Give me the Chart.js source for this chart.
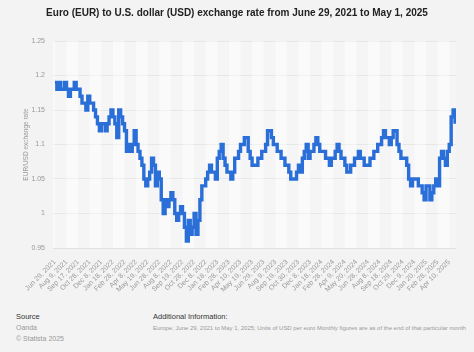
<!DOCTYPE html>
<html>
<head>
<meta charset="utf-8">
<script src="https://cdn.jsdelivr.net/npm/chart.js@4.4.1/dist/chart.umd.min.js"></script>
<style>
  html,body{margin:0;padding:0;background:#f3f3f3;font-family:"Liberation Sans",Arial,sans-serif;}
  #wrap{position:relative;width:474px;height:352px;overflow:hidden;}
  #title{position:absolute;left:0;top:7px;width:474px;text-align:center;font-size:10px;font-weight:bold;color:#222;}
  #box{position:absolute;left:0;top:0;width:474px;height:300px;}
  .ft{position:absolute;font-size:7px;line-height:11px;color:#999;}
  .ft b{font-weight:normal;color:#333;font-size:7.5px;}
</style>
</head>
<body>
<div id="wrap">
  <div id="box"><canvas id="chart" width="474" height="300"></canvas></div>
  <div id="title">Euro (EUR) to U.S. dollar (USD) exchange rate from June 29, 2021 to May 1, 2025</div>
  <div class="ft" style="left:16px;top:311px;"><b>Source</b><br>Oanda<br>© Statista 2025</div>
  <div class="ft" style="left:153px;top:311px;font-size:5.95px;"><b>Additional Information:</b><br>Europe; June 29, 2021 to May 1, 2025; Units of USD per euro Monthly figures are as of the end of that particular month</div>
</div>
<script>
// tick labels, one every 6 samples
const tickLabels = ['Jun 29, 2021','Aug 9, 2021','Sep 17, 2021','Oct 28, 2021','Dec 8, 2021','Jan 18, 2022','Feb 28, 2022','Apr 8, 2022','May 19, 2022','Jun 28, 2022','Aug 8, 2022','Sep 19, 2022','Oct 28, 2022','Dec 8, 2022','Jan 18, 2023','Feb 28, 2023','Apr 10, 2023','May 19, 2023','Jun 29, 2023','Aug 9, 2023','Sep 19, 2023','Oct 30, 2023','Dec 8, 2023','Jan 18, 2024','Feb 28, 2024','Apr 9, 2024','May 20, 2024','Jun 28, 2024','Aug 8, 2024','Sep 18, 2024','Oct 29, 2024','Dec 9, 2024','Jan 20, 2025','Feb 28, 2025','Apr 10, 2025'];
const perTick = 6;

// EUR/USD, roughly weekly samples
const rates = [
  1.19,1.18,1.19,1.18,1.18,1.19, 1.18,1.17,1.18,1.18,1.19,1.18,
  1.18,1.17,1.16,1.16,1.15,1.17, 1.16,1.16,1.15,1.14,1.13,1.12,
  1.13,1.13,1.12,1.13,1.14,1.15, 1.14,1.13,1.11,1.15,1.14,1.13,
  1.12,1.09,1.10,1.09,1.10,1.12, 1.10,1.09,1.08,1.07,1.05,1.04,
  1.05,1.06,1.08,1.07,1.04,1.06, 1.05,1.02,1.00,1.02,1.01,1.02,
  1.03,1.02,1.00,0.99,1.00,1.01, 1.00,0.98,0.96,0.99,0.97,0.98,
  1.00,0.97,0.99,1.02,1.04,1.04, 1.05,1.06,1.07,1.06,1.06,1.05,
  1.08,1.09,1.10,1.08,1.07,1.06, 1.06,1.05,1.06,1.08,1.08,1.09,
  1.10,1.10,1.11,1.11,1.09,1.08, 1.07,1.07,1.07,1.08,1.08,1.09,
  1.09,1.10,1.12,1.12,1.11,1.10, 1.10,1.09,1.09,1.08,1.08,1.07,
  1.07,1.06,1.05,1.05,1.05,1.06, 1.07,1.06,1.08,1.09,1.10,1.08,
  1.09,1.09,1.10,1.11,1.10,1.09, 1.09,1.09,1.08,1.08,1.07,1.08,
  1.08,1.09,1.10,1.09,1.08,1.08, 1.07,1.06,1.06,1.07,1.07,1.08,
  1.08,1.09,1.08,1.08,1.07,1.07, 1.07,1.08,1.08,1.09,1.09,1.10,
  1.10,1.11,1.12,1.11,1.11,1.10, 1.11,1.12,1.12,1.10,1.09,1.08,
  1.08,1.08,1.07,1.05,1.04,1.05, 1.05,1.05,1.04,1.04,1.03,1.02,
  1.04,1.04,1.02,1.03,1.04,1.05, 1.04,1.08,1.09,1.08,1.07,1.09,
  1.10,1.14,1.15,1.13
];

const yTicks = {min:0.95, max:1.25, step:0.05};
const gray = '#999';
const font = {family:'"Liberation Sans", Arial, sans-serif', size:7};

// alternating column bands behind the line
const bands = {
  id:'bands',
  beforeDatasetsDraw(c){
    const {ctx, chartArea:a, scales:{x}} = c;
    const edges = [a.left, ...tickLabels.map((_,i)=> x.getPixelForValue(i*perTick)), a.right];
    ctx.save();
    for (let i=0;i<edges.length-1;i++){
      ctx.fillStyle = i%2 ? 'rgba(255,255,255,0.2)' : 'rgba(255,255,255,0.55)';
      ctx.fillRect(edges[i], a.top, edges[i+1]-edges[i], a.bottom-a.top);
    }
    ctx.restore();
  }
};

new Chart(document.getElementById('chart'), {
  type:'line',
  data:{ datasets:[{
    data: rates.map((v,i)=>({x:i, y:v})),
    borderColor:'#2a6ed8', borderWidth:3.4, pointRadius:0, stepped:true, fill:false
  }]},
  options:{
    responsive:false, animation:false, maintainAspectRatio:false,
    layout:{ padding:{top:41, right:18, bottom:0, left:0} },
    plugins:{ legend:{display:false}, tooltip:{enabled:false}, title:{display:false} },
    scales:{
      x:{
        type:'linear', min:-1, max:rates.length-0.5,
        grid:{display:false}, border:{display:false},
        afterBuildTicks: s => { s.ticks = tickLabels.map((_,i)=>({value:i*perTick})); },
        afterFit: s => { s.height = 52; },
        ticks:{ autoSkip:false, minRotation:45, maxRotation:45, color:gray, font, padding:2,
          callback: v => tickLabels[v/perTick] }
      },
      y:{
        min:yTicks.min, max:yTicks.max,
        grid:{color:'#e1e1e1', drawTicks:false}, border:{display:false},
        afterFit: s => { s.width = 53; },
        ticks:{ stepSize:yTicks.step, color:gray, font, padding:8,
          callback: v => String(+v.toFixed(2)) },
        title:{ display:true, text:'EUR/USD exchange rate', color:gray, font:{...font, size:6.5}, padding:{top:22, bottom:0} }
      }
    }
  },
  plugins:[bands]
});
</script>
</body>
</html>
